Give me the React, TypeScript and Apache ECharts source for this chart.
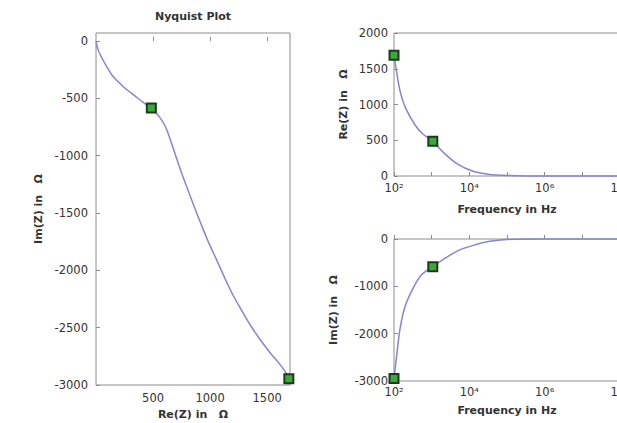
import React, { useEffect, useRef } from "react";
import * as echarts from "echarts";

// Nyquist curve (Re(Z), Im(Z) in Ohm)
const nyquistRe = [0, 18, 52, 95, 139, 195, 252, 310, 365, 420, 478, 520, 560, 600, 630, 665, 700, 750, 810, 870, 930, 990, 1060, 1130, 1200, 1280, 1360, 1440, 1520, 1600, 1665, 1690];
const nyquistIm = [0, -75, -148, -225, -296, -356, -410, -455, -497, -540, -584, -622, -668, -730, -800, -900, -1005, -1150, -1310, -1470, -1620, -1765, -1915, -2070, -2215, -2355, -2490, -2605, -2712, -2805, -2895, -2945];

// Frequency responses
const freqHz = [100, 117.5, 144.5, 199.5, 354.8, 562.3, 1071.5, 2138, 4898, 12023, 31623, 1e5, 1e6, 1e7, 1e8];
const reZ = [1690, 1450, 1190, 960, 720, 595, 485, 320, 165, 70, 25, 8, 0, 0, 0];
const imZ = [-2945, -2470, -1900, -1410, -975, -740, -584, -420, -250, -140, -55, -10, 0, 0, 0];

// highlighted samples (indices into the frequency arrays)
const markerIdx = [0, 6];

const nyqXTicks = { min: 0, max: 1700, interval: 500 };
const nyqYTicks = { min: -3000, max: 70, interval: 500 };
const reYTicks = { min: 0, max: 2000, interval: 500 };
const imYTicks = { min: -3000, max: 0, interval: 1000 };
const freqRange = { min: 100, max: 1e8 };

const SUP: Record<string, string> = { "0": "\u2070", "1": "\u00B9", "2": "\u00B2", "3": "\u00B3", "4": "\u2074", "5": "\u2075", "6": "\u2076", "7": "\u2077", "8": "\u2078", "9": "\u2079" };

const FONT = "'DejaVu Sans', Verdana, sans-serif";
const frameColor = "#8c8c8c";
const labelColor = "#333333";
const lineColor = "#8585d4";

export default function App() {
  const ref = useRef<HTMLDivElement>(null);
  useEffect(() => {
    document.body.style.margin = "0";
    const chart = echarts.init(ref.current!, undefined, { renderer: "svg" });

    const axisLabel = { color: labelColor, fontSize: 11.5, fontFamily: FONT, formatter: (v: number) => String(v) };
    const nameStyle = { color: labelColor, fontSize: 11, fontWeight: "bold" as const, fontFamily: FONT };
    const tick = { show: true, inside: true, length: 4, lineStyle: { color: frameColor } };
    const logFmt = (v: number) => {
      const e = Math.round(Math.log10(v));
      if (e % 2 !== 0) return "";
      return "10" + String(e).split("").map((c) => SUP[c]).join("");
    };
    const lineS = { type: "line" as const, showSymbol: false, smooth: 0.3, lineStyle: { color: lineColor, width: 1.5 }, clip: false, z: 2 };
    const markS = {
      type: "scatter" as const,
      symbol: "rect",
      symbolSize: 9,
      clip: false,
      z: 3,
      itemStyle: { color: "#3aa83a", borderColor: "#1c3a1c", borderWidth: 2, opacity: 1 },
    };
    const gridBase = { show: true, borderColor: frameColor, borderWidth: 1, backgroundColor: "transparent", containLabel: false, outerBoundsMode: "none" };

    chart.setOption({
      animation: false,
      backgroundColor: "#ffffff",
      graphic: [
        {
          type: "text",
          x: 193,
          y: 16,
          style: { text: "Nyquist Plot", align: "center", verticalAlign: "middle", fontSize: 11, fontWeight: "bold", fontFamily: FONT, fill: labelColor },
        },
      ],
      grid: [
        { ...gridBase, left: 96, top: 33, width: 194, height: 352 },
        { ...gridBase, left: 394, top: 33, width: 226, height: 143 },
        { ...gridBase, left: 394, top: 239, width: 226, height: 142 },
      ],
      xAxis: [
        {
          gridIndex: 0, type: "value", ...nyqXTicks,
          name: "Re(Z) in   \u03A9", nameLocation: "middle", nameGap: 13, nameTextStyle: nameStyle,
          axisLine: { show: false }, axisTick: tick, splitLine: { show: false },
          axisLabel: { ...axisLabel, margin: 7, showMinLabel: false, showMaxLabel: false },
        },
        {
          gridIndex: 1, type: "log", logBase: 10, ...freqRange,
          name: "Frequency in Hz", nameLocation: "middle", nameGap: 28, nameTextStyle: nameStyle,
          axisLine: { show: false }, axisTick: tick, splitLine: { show: false }, minorTick: { show: false },
          axisLabel: { ...axisLabel, margin: 6, formatter: logFmt, showMaxLabel: true },
        },
        {
          gridIndex: 2, type: "log", logBase: 10, ...freqRange,
          name: "Frequency in Hz", nameLocation: "middle", nameGap: 24, nameTextStyle: nameStyle,
          axisLine: { show: false }, axisTick: tick, splitLine: { show: false }, minorTick: { show: false },
          axisLabel: { ...axisLabel, margin: 5, formatter: logFmt, showMaxLabel: true },
        },
      ],
      yAxis: [
        {
          gridIndex: 0, type: "value", ...nyqYTicks,
          name: "Im(Z) in   \u03A9", nameLocation: "middle", nameGap: 52, nameTextStyle: nameStyle,
          axisLine: { show: false }, axisTick: tick, splitLine: { show: false },
          axisLabel: { ...axisLabel, margin: 8, showMaxLabel: false },
        },
        {
          gridIndex: 1, type: "value", ...reYTicks,
          name: "Re(Z) in   \u03A9", nameLocation: "middle", nameGap: 45, nameTextStyle: nameStyle,
          axisLine: { show: false }, axisTick: tick, splitLine: { show: false },
          axisLabel: { ...axisLabel, margin: 6 },
        },
        {
          gridIndex: 2, type: "value", ...imYTicks,
          name: "Im(Z) in   \u03A9", nameLocation: "middle", nameGap: 55, nameTextStyle: nameStyle,
          axisLine: { show: false }, axisTick: tick, splitLine: { show: false },
          axisLabel: { ...axisLabel, margin: 6 },
        },
      ],
      series: [
        { ...lineS, xAxisIndex: 0, yAxisIndex: 0, data: nyquistRe.map((r, i) => [r, nyquistIm[i]]) },
        { ...markS, xAxisIndex: 0, yAxisIndex: 0, data: markerIdx.map((i) => [reZ[i], imZ[i]]) },
        { ...lineS, xAxisIndex: 1, yAxisIndex: 1, data: freqHz.map((f, i) => [f, reZ[i]]) },
        { ...markS, xAxisIndex: 1, yAxisIndex: 1, data: markerIdx.map((i) => [freqHz[i], reZ[i]]) },
        { ...lineS, xAxisIndex: 2, yAxisIndex: 2, data: freqHz.map((f, i) => [f, imZ[i]]) },
        { ...markS, xAxisIndex: 2, yAxisIndex: 2, data: markerIdx.map((i) => [freqHz[i], imZ[i]]) },
      ],
    });
    return () => chart.dispose();
  }, []);
  return <div ref={ref} style={{ width: 617, height: 423 }} />;
}
